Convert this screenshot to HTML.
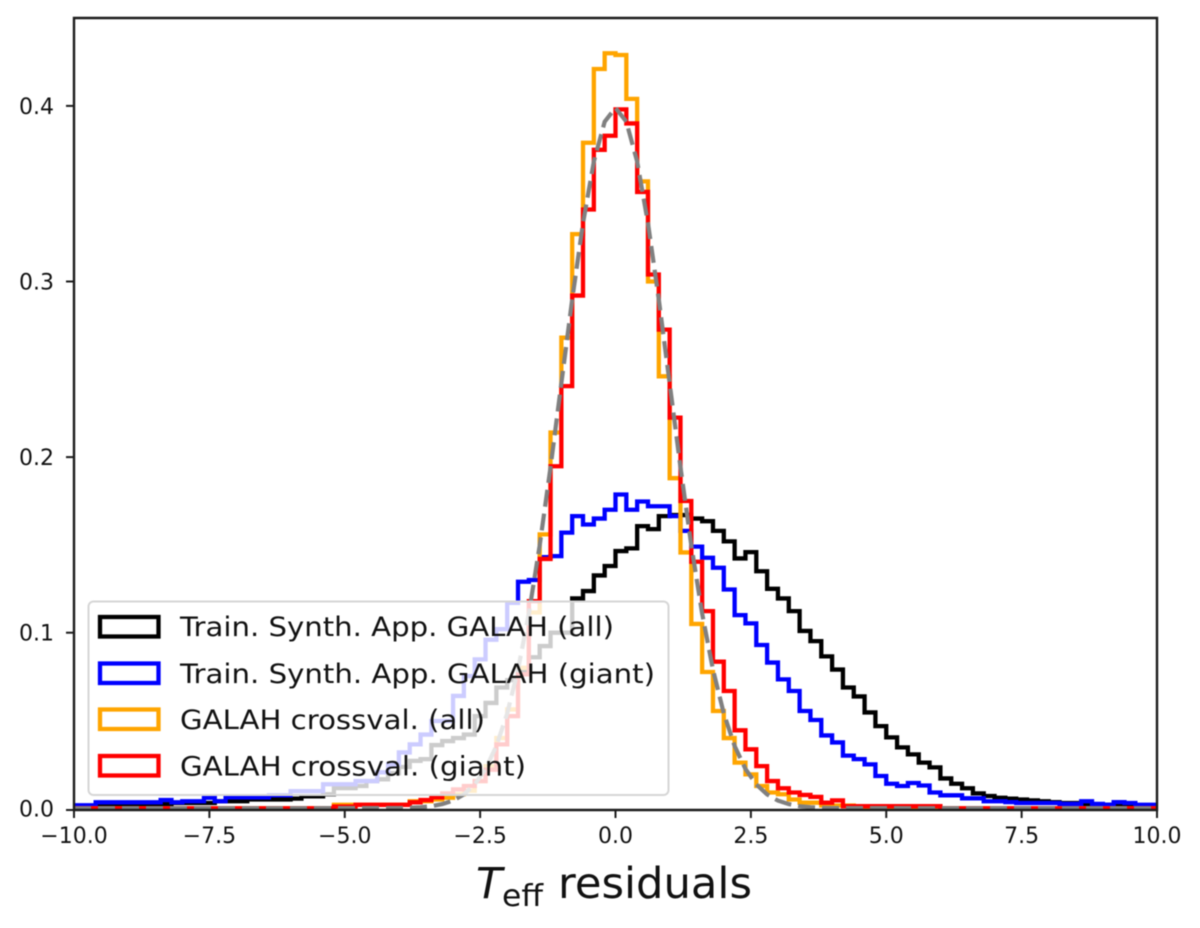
<!DOCTYPE html>
<html lang="en">
<head>
<meta charset="utf-8">
<title>Teff residuals histogram</title>
<style>
html,body{margin:0;padding:0;background:#fff;}
svg{display:block;filter:blur(0.6px);}
text{font-family:"DejaVu Sans","Liberation Sans",sans-serif;fill:#111;}
</style>
</head>
<body>
<svg id="chart" xmlns="http://www.w3.org/2000/svg" width="1200" height="928" viewBox="0 0 1200 928">
  <defs><clipPath id="plot-clip"><rect x="74" y="18" width="1083" height="793"/></clipPath></defs>
  <g id="marks" clip-path="url(#plot-clip)"></g>
  <path d="M74 18H1157V810H74Z" fill="none" stroke="#1c1c1c" stroke-width="2.4"/>
  <g id="ticks"></g>
  <g>
    <text x="476" y="898" font-size="43" font-style="italic">T</text>
    <text x="502" y="906" font-size="30" textLength="41" lengthAdjust="spacingAndGlyphs">eff</text>
    <text x="558" y="898" font-size="43" textLength="194" lengthAdjust="spacingAndGlyphs">residuals</text>
  </g>
  <g>
    <rect x="88.5" y="601.5" width="580" height="193.5" rx="5" fill="#fff" fill-opacity="0.8" stroke="#d6d6d6" stroke-width="2"/>
    <rect x="100" y="617" width="58.5" height="19.5" fill="none" stroke="#000" stroke-width="4.3"/>
    <text x="180" y="636" font-size="26.5" textLength="434" lengthAdjust="spacingAndGlyphs">Train. Synth. App. GALAH (all)</text>
    <rect x="100" y="663.5" width="58.5" height="19.5" fill="none" stroke="#0000ff" stroke-width="4.3"/>
    <text x="180" y="683" font-size="26.5" textLength="475" lengthAdjust="spacingAndGlyphs">Train. Synth. App. GALAH (giant)</text>
    <rect x="100" y="709.5" width="58.5" height="19.5" fill="none" stroke="#ffa500" stroke-width="4.3"/>
    <text x="180" y="729" font-size="26.5" textLength="305" lengthAdjust="spacingAndGlyphs">GALAH crossval. (all)</text>
    <rect x="100" y="756" width="58.5" height="19.5" fill="none" stroke="#ff0000" stroke-width="4.3"/>
    <text x="180" y="775.5" font-size="26.5" textLength="346" lengthAdjust="spacingAndGlyphs">GALAH crossval. (giant)</text>
  </g>
</svg>
<script>
const binEdgeStart = -10;
const binWidth = 0.2;
const trainAll = [
.0015,.0015,.002,.002,.002,.002,.002,.002,.0025,.003,
.003,.003,.003,.004,.004,.004,.005,.005,.005,.005,
.0055,.0068,.0068,.008,.0115,.0115,.0127,.0155,.0165,.02,
.0235,.027,.028,.036,.0383,.04,.042,.0525,.06,.0688,
.073,.078,.086,.0924,.1,.1,.1195,.1237,.1326,.138,
.1465,.148,.1607,.159,.1664,.167,.167,.165,.1635,.158,
.152,.1423,.1459,.135,.125,.1195,.1123,.101,.0952,.0865,
.079,.0688,.0637,.0546,.0468,.0404,.0347,.0307,.026,.0233,
.017,.014,.0114,.0085,.007,.006,.0055,.005,.0045,.004,
.0035,.003,.003,.0025,.002,.002,.002,.0015,.0015,.0015];
const trainGiant = [
.0017,.0017,.0034,.0034,.0034,.0034,.0034,.0034,.0047,.0034,
.004,.004,.006,.004,.0062,.0062,.0062,.0062,.0074,.0074,
.0098,.0098,.0098,.0137,.0137,.0137,.0155,.0155,.0205,.025,
.0318,.0364,.042,.0497,.0497,.064,.0753,.0848,.096,.102,
.117,.129,.13,.143,.1436,.157,.1664,.1616,.165,.17,
.1787,.17,.1747,.172,.172,.1664,.158,.149,.1427,.137,
.1246,.11,.1053,.093,.083,.0734,.0668,.0554,.0503,.0415,
.0375,.03,.028,.025,.0184,.014,.0127,.0144,.013,.009,
.0074,.0074,.0057,.0057,.004,.004,.0035,.003,.003,.003,
.003,.0025,.0025,.004,.0025,.002,.0035,.003,.002,.002];
const crossvalAll = [
0,0,0,0,0,0,0,0,0,0,
0,0,0,0,0,0,0,0,0,0,
0,0,0,0,.002,.002,.002,.002,.002,.002,
.002,.004,.004,.005,.006,.008,.01,.0155,.024,.04,
.0563,.08,.1115,.156,.214,.268,.327,.379,.421,.43,
.429,.404,.357,.3,.246,.188,.1457,.105,.0776,.0554,
.04,.026,.0193,.0127,.009,.008,.005,.0032,.0032,.0016,
.0016,.0016,0,0,0,0,0,0,0,0,
0,0,0,0,0,0,0,0,0,0,
0,0,0,0,0,0,0,0,0,0];
const crossvalGiant = [
0,0,0,0,0,0,0,0,0,0,
0,0,0,0,0,0,0,0,0,0,
0,0,0,0,.001,.001,.002,.002,.002,.002,
.002,.0034,.0047,.0062,.0085,.0108,.0127,.0155,.022,.0364,
.0525,.0763,.118,.142,.1948,.2404,.292,.341,.375,.383,
.398,.39,.351,.304,.2726,.2225,.175,.1404,.1123,.0835,
.0668,.0444,.0336,.024,.0155,.0114,.009,.0076,.0065,.0032,
.0045,.0012,.0012,.0012,.0012,.0012,.0012,.0012,.0012,.0012,
0,0,0,0,0,0,0,0,0,0,
0,0,0,0,0,0,0,0,0,0];
const referenceCurveX = [-10,-4,-3.8,-3.6,-3.4,-3.2,-3,-2.8,-2.6,-2.4,-2.2,-2,-1.8,-1.6,-1.4,-1.2,-1,-.8,-.6,-.4,-.2,0,.2,.4,.6,.8,1,1.2,1.4,1.6,1.8,2,2.2,2.4,2.6,2.8,3,3.2,3.4,3.6,3.8,4,10];
const referenceCurveY = [0,.0001,.0003,.0006,.0012,.0024,.0044,.0079,.0136,.0224,.0355,.054,.079,.1109,.1497,.1942,.242,.2897,.3332,.3683,.391,.3989,.391,.3683,.3332,.2897,.242,.1942,.1497,.1109,.079,.054,.0355,.0224,.0136,.0079,.0044,.0024,.0012,.0006,.0003,.0001,0];
const xTickValues = [-10,-7.5,-5,-2.5,0,2.5,5,7.5,10];
const xTickLabels = ["\u221210.0","\u22127.5","\u22125.0","\u22122.5","0.0","2.5","5.0","7.5","10.0"];
const yTickValues = [0,.1,.2,.3,.4];
const yTickLabels = ["0.0","0.1","0.2","0.3","0.4"];

const NS = "http://www.w3.org/2000/svg";
function xScale(v){ return 615.5 + v * 54.15; }
function yScale(v){ return 808.3 - v * 1756; }
const marks = document.getElementById("marks");
const ticks = document.getElementById("ticks");

function stepPath(values){
  let d = "M" + xScale(binEdgeStart) + " " + yScale(0);
  values.forEach(function(v, i){
    const x0 = xScale(binEdgeStart + i * binWidth);
    const x1 = xScale(binEdgeStart + (i + 1) * binWidth);
    d += "L" + x0.toFixed(2) + " " + yScale(v).toFixed(2) + "L" + x1.toFixed(2) + " " + yScale(v).toFixed(2);
  });
  return d + "L" + xScale(binEdgeStart + values.length * binWidth) + " " + yScale(0);
}
function addHistogram(values, color, name){
  const p = document.createElementNS(NS, "path");
  p.setAttribute("d", stepPath(values));
  p.setAttribute("fill", "none");
  p.setAttribute("stroke", color);
  p.setAttribute("stroke-width", "4.3");
  p.setAttribute("stroke-linejoin", "miter");
  
  
  marks.appendChild(p);
}
addHistogram(trainAll, "#000000", "histogram-train-all");
addHistogram(trainGiant, "#0000ff", "histogram-train-giant");
addHistogram(crossvalAll, "#ffa500", "histogram-crossval-all");
addHistogram(crossvalGiant, "#ff0000", "histogram-crossval-giant");

const curve = document.createElementNS(NS, "polyline");
curve.setAttribute("points", referenceCurveX.map(function(x, i){ return xScale(x).toFixed(2) + "," + yScale(referenceCurveY[i]).toFixed(2); }).join(" "));
curve.setAttribute("fill", "none");
curve.setAttribute("stroke", "#808080");
curve.setAttribute("stroke-width", "4.2");
curve.setAttribute("stroke-dasharray", "17 7");


marks.appendChild(curve);

xTickValues.forEach(function(v, i){
  const t = document.createElementNS(NS, "line");
  t.setAttribute("x1", xScale(v)); t.setAttribute("x2", xScale(v));
  t.setAttribute("y1", 810); t.setAttribute("y2", 818);
  t.setAttribute("stroke", "#1c1c1c"); t.setAttribute("stroke-width", "2");
  
  
  ticks.appendChild(t);
  const l = document.createElementNS(NS, "text");
  l.setAttribute("x", xScale(v)); l.setAttribute("y", 843);
  l.setAttribute("text-anchor", "middle"); l.setAttribute("font-size", "22");
  l.textContent = xTickLabels[i];
  
  
  ticks.appendChild(l);
});
yTickValues.forEach(function(v, i){
  const t = document.createElementNS(NS, "line");
  t.setAttribute("x1", 66); t.setAttribute("x2", 74);
  t.setAttribute("y1", v === 0 ? 810 : yScale(v)); t.setAttribute("y2", v === 0 ? 810 : yScale(v));
  t.setAttribute("stroke", "#1c1c1c"); t.setAttribute("stroke-width", "2");
  
  
  ticks.appendChild(t);
  const l = document.createElementNS(NS, "text");
  l.setAttribute("x", 54); l.setAttribute("y", yScale(v) + 8);
  l.setAttribute("text-anchor", "end"); l.setAttribute("font-size", "22");
  l.textContent = yTickLabels[i];
  
  
  ticks.appendChild(l);
});
</script>
</body>
</html>
